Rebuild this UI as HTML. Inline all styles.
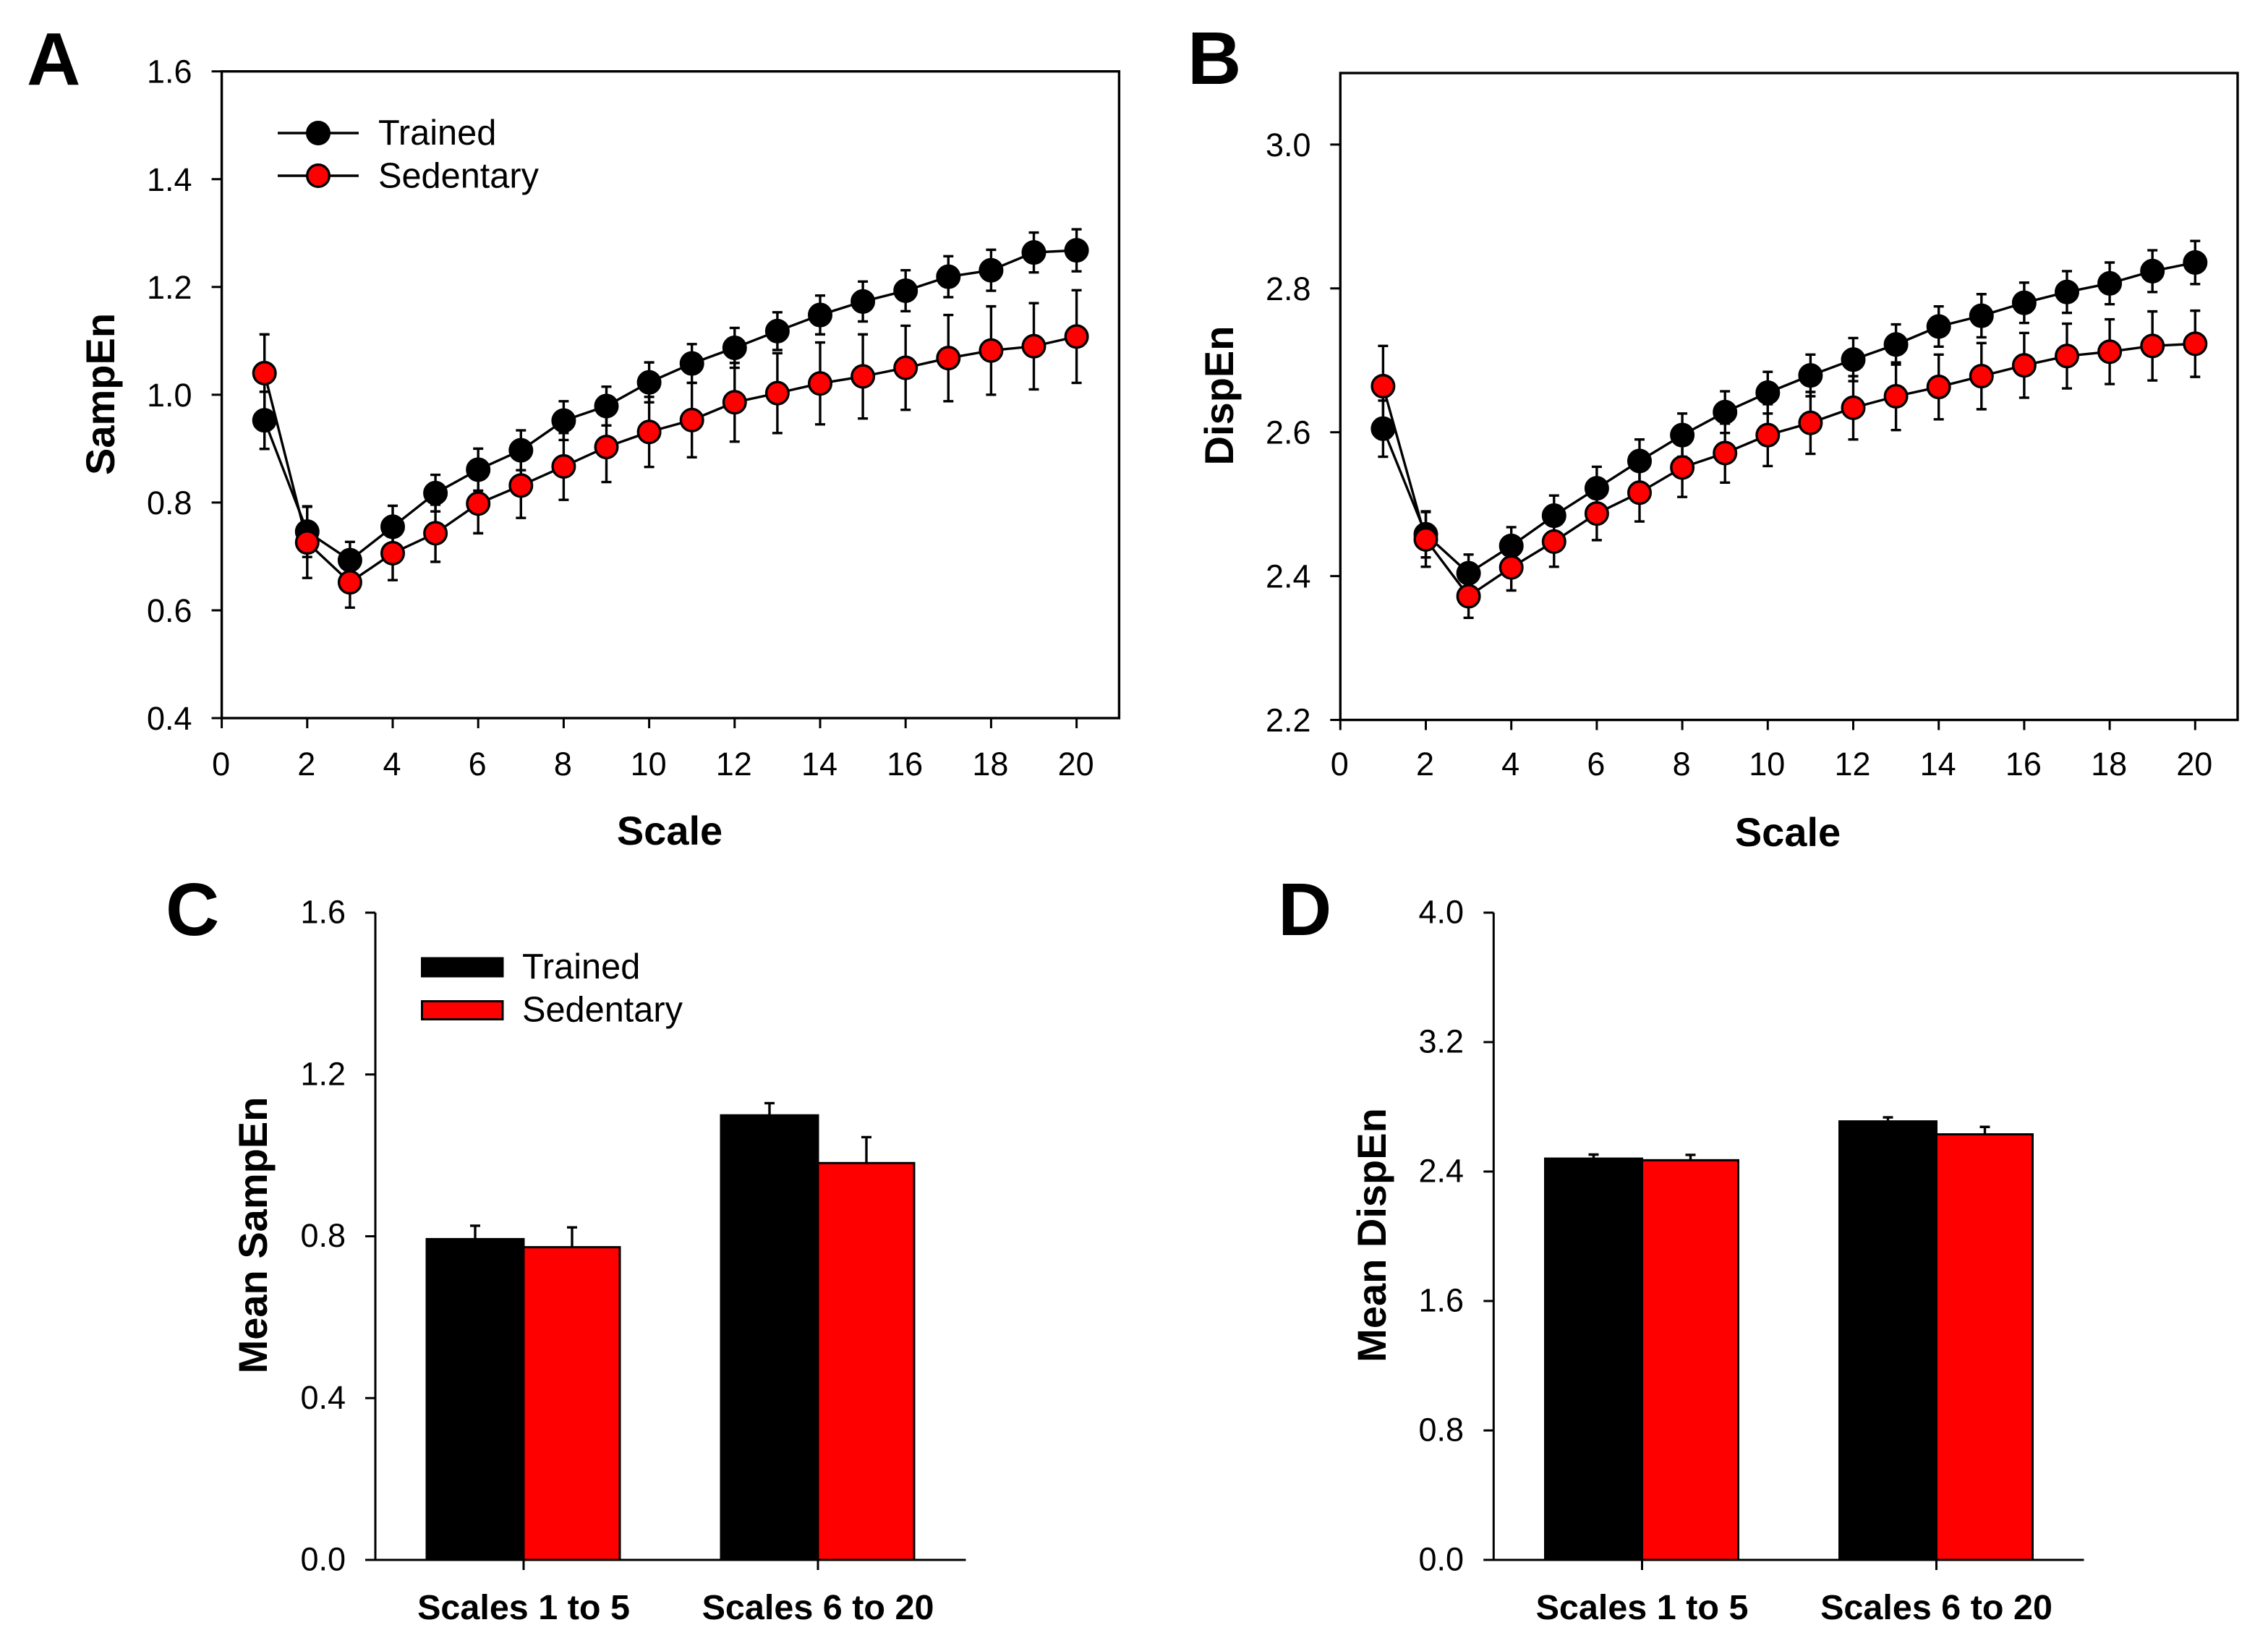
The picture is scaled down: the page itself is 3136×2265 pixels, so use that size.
<!DOCTYPE html>
<html lang="en">
<head>
<meta charset="utf-8">
<title>SampEn and DispEn: Trained vs Sedentary</title>
<style>
html,body{margin:0;padding:0;background:#fff;}
svg{display:block;}
text{font-family:"Liberation Sans",Arial,sans-serif;fill:#000;}
.tick{font-size:45px;}
.title{font-size:56px;font-weight:bold;}
.cat{font-size:48.5px;font-weight:bold;}
.leg{font-size:48.7px;}
.letter{font-size:103px;font-weight:bold;}
</style>
</head>
<body>
<svg id="figure" xmlns="http://www.w3.org/2000/svg" width="3136" height="2265" viewBox="0 0 3136 2265">
  <rect x="0" y="0" width="3136" height="2265" fill="#fff"/>

  <text class="letter" x="37" y="117">A</text>
  <text class="letter" x="1642" y="116">B</text>
  <text class="letter" x="229" y="1293">C</text>
  <text class="letter" x="1767" y="1293">D</text>

  <g id="panel-a">
    <text class="title" x="926" y="1168" text-anchor="middle">Scale</text>
    <text class="title" transform="translate(158 545) rotate(-90)" text-anchor="middle">SampEn</text>
  </g>
  <g id="panel-b">
    <text class="title" x="2472" y="1170" text-anchor="middle">Scale</text>
    <text class="title" transform="translate(1705 547) rotate(-90)" text-anchor="middle">DispEn</text>
  </g>
  <g id="panel-c">
    <text class="title" transform="translate(369 1708) rotate(-90)" text-anchor="middle">Mean SampEn</text>
  </g>
  <g id="panel-d">
    <text class="title" transform="translate(1916 1708) rotate(-90)" text-anchor="middle">Mean DispEn</text>
  </g>

  <g>
    <g>
      <line x1="384" y1="184" x2="496" y2="184" stroke="#000" stroke-width="3.4"/>
      <circle cx="440" cy="184" r="15.3" fill="#000" stroke="#000" stroke-width="3.4"/>
      <text class="leg" x="523" y="200">Trained</text>
    </g>
    <g>
      <line x1="384" y1="243" x2="496" y2="243" stroke="#000" stroke-width="3.4"/>
      <circle cx="440" cy="243" r="15.3" fill="#f00" stroke="#000" stroke-width="3.4"/>
      <text class="leg" x="523" y="259.5">Sedentary</text>
    </g>
  </g>
  <g>
    <g>
      <rect x="583.5" y="1325" width="111.5" height="25" fill="#000" stroke="#000" stroke-width="3"/>
      <text class="leg" x="722" y="1353">Trained</text>
    </g>
    <g>
      <rect x="583.5" y="1384.5" width="111.5" height="25" fill="#f00" stroke="#000" stroke-width="3"/>
      <text class="leg" x="722" y="1412.5">Sedentary</text>
    </g>
  </g>
</svg>

<script>
// ---- Panel A: SampEn by scale ----
const scales = [1,2,3,4,5,6,7,8,9,10,11,12,13,14,15,16,17,18,19,20];
const sampEnTrained = [0.9525,0.746,0.693,0.755,0.8175,0.861,0.897,0.952,0.979,1.023,1.058,1.087,1.118,1.148,1.173,1.193,1.219,1.231,1.264,1.268];
const sampEnTrainedErr = [0.053,0.047,0.034,0.039,0.034,0.039,0.037,0.036,0.036,0.037,0.036,0.037,0.035,0.036,0.037,0.038,0.038,0.038,0.037,0.039];
const sampEnSedentary = [1.04,0.726,0.652,0.706,0.743,0.798,0.8315,0.867,0.903,0.931,0.953,0.986,1.003,1.021,1.034,1.05,1.068,1.082,1.09,1.108];
const sampEnSedentaryErr = [0.072,0.066,0.047,0.05,0.053,0.055,0.06,0.062,0.065,0.065,0.069,0.073,0.074,0.076,0.078,0.078,0.08,0.082,0.08,0.086];
const sampEnTicks = ["0.4","0.6","0.8","1.0","1.2","1.4","1.6"];
const scaleTicks = ["0","2","4","6","8","10","12","14","16","18","20"];

// ---- Panel B: DispEn by scale ----
const dispEnTrained = [2.605,2.458,2.404,2.442,2.484,2.522,2.56,2.596,2.628,2.655,2.679,2.701,2.722,2.747,2.762,2.78,2.795,2.807,2.824,2.836];
const dispEnTrainedErr = [0.039,0.032,0.026,0.026,0.028,0.03,0.03,0.03,0.029,0.029,0.029,0.03,0.028,0.028,0.03,0.028,0.029,0.029,0.029,0.03];
const dispEnSedentary = [2.664,2.451,2.372,2.412,2.448,2.487,2.516,2.551,2.571,2.596,2.613,2.634,2.65,2.663,2.678,2.693,2.706,2.712,2.72,2.723];
const dispEnSedentaryErr = [0.056,0.038,0.03,0.032,0.035,0.037,0.04,0.041,0.041,0.043,0.043,0.044,0.047,0.045,0.046,0.045,0.045,0.045,0.048,0.046];
const dispEnTicks = ["2.2","2.4","2.6","2.8","3.0"];

// ---- Panels C and D: means over scale ranges ----
const rangeCategories = ["Scales 1 to 5","Scales 6 to 20"];
const meanSampEnTrained = [0.793,1.099];
const meanSampEnTrainedErr = [0.033,0.03];
const meanSampEnSedentary = [0.773,0.981];
const meanSampEnSedentaryErr = [0.049,0.064];
const meanSampEnTicks = ["0.0","0.4","0.8","1.2","1.6"];
const meanDispEnTrained = [2.48,2.71];
const meanDispEnTrainedErr = [0.025,0.025];
const meanDispEnSedentary = [2.47,2.63];
const meanDispEnSedentaryErr = [0.033,0.046];
const meanDispEnTicks = ["0.0","0.8","1.6","2.4","3.2","4.0"];

const NS = 'http://www.w3.org/2000/svg';

function mk(parent, tag, props, txt) {
  const el = document.createElementNS(NS, tag);
  for (const k in props) el.setAttribute(k, props[k]);
  if (txt !== undefined) el.textContent = txt;
  parent.appendChild(el);
  return el;
}

function linear(d0, d1, r0, r1) {
  return function (v) { return r0 + (v - d0) * (r1 - r0) / (d1 - d0); };
}

function yTicks(g, labels, y, axisX, labelRight, labelDrop) {
  labels.forEach(function (lab) {
    const v = Number(lab);
    const t = mk(g, 'line', {x1: axisX - 14, x2: axisX, y1: y(v), y2: y(v), stroke: '#000', 'stroke-width': 3});
    
    
    const l = mk(g, 'text', {'class': 'tick', x: labelRight, y: y(v) + labelDrop, 'text-anchor': 'end'}, lab);
    
    
  });
}

function drawSeries(g, name, xs, ys, errs, x, y, fill) {
  const pts = xs.map(function (v, i) { return x(v) + ',' + y(ys[i]); }).join(' ');
  const line = mk(g, 'polyline', {points: pts, fill: 'none', stroke: '#000', 'stroke-width': 3.4, 'stroke-linejoin': 'round'});
  
  
  xs.forEach(function (v, i) {
    const cx = x(v), hi = y(ys[i] + errs[i]), lo = y(ys[i] - errs[i]);
    const eb = mk(g, 'path', {
      d: 'M' + cx + ' ' + lo + 'V' + hi + 'M' + (cx - 7) + ' ' + hi + 'H' + (cx + 7) + 'M' + (cx - 7) + ' ' + lo + 'H' + (cx + 7),
      fill: 'none', stroke: '#000', 'stroke-width': 3.4
    });
    
    
  });
  xs.forEach(function (v, i) {
    const c = mk(g, 'circle', {cx: x(v), cy: y(ys[i]), r: 15.3, fill: fill, stroke: '#000', 'stroke-width': 3.4});
    
    
  });
}

function linePanel(id, left, right, top, bottom, y, yLabels, labelRight, xLabelBaseline, trained, trainedErr, sedentary, sedentaryErr) {
  const g = document.getElementById(id);
  const x = linear(0, 20, left, left + 1182);
  const frame = mk(g, 'rect', {x: left, y: top, width: right - left, height: bottom - top, fill: 'none', stroke: '#000', 'stroke-width': 3.4});
  
  
  yTicks(g, yLabels, y, left, labelRight, 16);
  scaleTicks.forEach(function (lab) {
    const v = Number(lab);
    const t = mk(g, 'line', {x1: x(v), x2: x(v), y1: bottom, y2: bottom + 14, stroke: '#000', 'stroke-width': 3});
    
    
    const l = mk(g, 'text', {'class': 'tick', x: x(v) - 1, y: xLabelBaseline, 'text-anchor': 'middle'}, lab);
    
    
  });
  drawSeries(g, 'trained', scales, trained, trainedErr, x, y, '#000');
  drawSeries(g, 'sedentary', scales, sedentary, sedentaryErr, x, y, '#f00');
}

function barPanel(id, axisX, axisEnd, firstTickX, yTop, y, yLabels, labelRight, trained, trainedErr, sedentary, sedentaryErr) {
  const g = document.getElementById(id);
  const base = y(0);
  const groupGap = 407;
  const x = linear(0, 1, firstTickX, firstTickX + groupGap);
  rangeCategories.forEach(function (cat, i) {
    const cx = x(i);
    const bars = [
      {n: 'trained', v: trained[i], e: trainedErr[i], f: '#000', x0: cx - 134, x1: cx, ex: cx - 67},
      {n: 'sedentary', v: sedentary[i], e: sedentaryErr[i], f: '#f00', x0: cx, x1: cx + 133, ex: cx + 67}
    ];
    bars.forEach(function (b) {
      const eb = mk(g, 'path', {
        d: 'M' + b.ex + ' ' + y(b.v) + 'V' + y(b.v + b.e) + 'M' + (b.ex - 7) + ' ' + y(b.v + b.e) + 'H' + (b.ex + 7),
        fill: 'none', stroke: '#000', 'stroke-width': 3.4
      });
      
      
      const r = mk(g, 'rect', {x: b.x0, y: y(b.v), width: b.x1 - b.x0, height: base - y(b.v), fill: b.f, stroke: '#000', 'stroke-width': 3});
      
      
    });
    const t = mk(g, 'line', {x1: cx, x2: cx, y1: base, y2: base + 14, stroke: '#000', 'stroke-width': 3});
    
    
    const l = mk(g, 'text', {'class': 'cat', x: cx, y: 2239, 'text-anchor': 'middle'}, cat);
    
    
  });
  const ya = mk(g, 'line', {x1: axisX, x2: axisX, y1: yTop, y2: base, stroke: '#000', 'stroke-width': 3});
  
  
  const xa = mk(g, 'line', {x1: axisX - 14, x2: axisEnd, y1: base, y2: base, stroke: '#000', 'stroke-width': 3});
  
  
  yTicks(g, yLabels, y, axisX, labelRight, 14.5);
}

linePanel('panel-a', 306.6, 1547.4, 98.7, 993, linear(0.4, 1.6, 993, 98.7), sampEnTicks, 265.5, 1072,
  sampEnTrained, sampEnTrainedErr, sampEnSedentary, sampEnSedentaryErr);
linePanel('panel-b', 1853.3, 3094, 101, 995.5, linear(2.2, 3.0, 995.5, 199.9), dispEnTicks, 1812.5, 1072,
  dispEnTrained, dispEnTrainedErr, dispEnSedentary, dispEnSedentaryErr);
barPanel('panel-c', 519, 1335.5, 724, 1262, linear(0, 1.6, 2157, 1262), meanSampEnTicks, 478,
  meanSampEnTrained, meanSampEnTrainedErr, meanSampEnSedentary, meanSampEnSedentaryErr);
barPanel('panel-d', 2065.3, 2881.5, 2270.5, 1262, linear(0, 4, 2157, 1262), meanDispEnTicks, 2024,
  meanDispEnTrained, meanDispEnTrainedErr, meanDispEnSedentary, meanDispEnSedentaryErr);
</script>
</body>
</html>
